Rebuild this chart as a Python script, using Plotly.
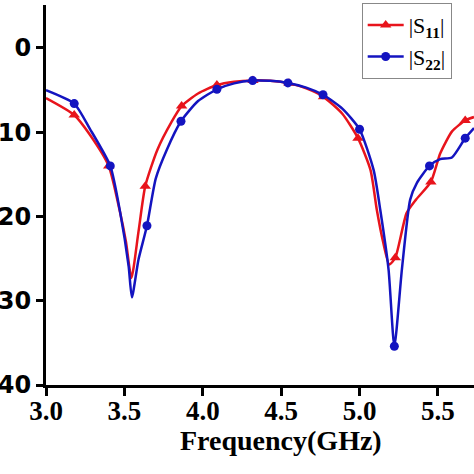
import plotly.graph_objects as go

# ---- data ----
freq_s11 = [3.00, 3.18, 3.28, 3.40, 3.47, 3.51, 3.545, 3.59, 3.633, 3.71, 3.80, 3.865,
            3.97, 4.09, 4.20, 4.32, 4.43, 4.55, 4.66, 4.77, 4.89, 4.99, 5.07, 5.11,
            5.15, 5.19, 5.228, 5.30, 5.36, 5.455, 5.515, 5.59, 5.674, 5.73]
s11 = [-5.95, -7.95, -10.3, -14.0, -19.3, -23.0, -27.3, -21.8, -16.4, -12.1, -8.8, -6.9,
       -5.4, -4.4, -4.0, -3.85, -3.9, -4.2, -4.8, -5.8, -7.8, -10.7, -14.5, -19.2,
       -23.0, -25.7, -24.9, -19.6, -18.0, -15.9, -12.5, -9.9, -8.6, -8.2]
freq_s11_mk = [3.18, 3.40, 3.633, 3.865, 4.09, 4.32, 4.55, 4.77, 4.99, 5.228, 5.455, 5.674]
s11_mk = [-7.95, -14.0, -16.4, -6.9, -4.4, -3.85, -4.2, -5.8, -10.7, -24.9, -15.9, -8.6]

freq_s22 = [3.00, 3.18, 3.28, 3.41, 3.474, 3.527, 3.548, 3.59, 3.644, 3.70, 3.77, 3.861,
            3.97, 4.09, 4.20, 4.318, 4.43, 4.543, 4.66, 4.767, 4.89, 5.00, 5.09, 5.132,
            5.185, 5.222, 5.27, 5.323, 5.366, 5.446, 5.514, 5.589, 5.674, 5.73]
s22 = [-5.0, -6.6, -9.6, -14.0, -19.6, -25.9, -29.6, -25.1, -21.1, -15.5, -12.1, -8.7,
       -6.3, -4.9, -4.2, -3.87, -3.9, -4.15, -4.7, -5.55, -7.2, -9.65, -14.5, -19.2,
       -26.3, -35.4, -26.3, -18.0, -16.0, -14.0, -13.2, -13.0, -10.7, -9.5]
freq_s22_mk = [3.18, 3.41, 3.644, 3.861, 4.09, 4.318, 4.543, 4.767, 5.00, 5.222, 5.446, 5.674]
s22_mk = [-6.6, -14.0, -21.1, -8.7, -4.9, -3.87, -4.15, -5.55, -9.65, -35.4, -14.0, -10.7]

x_ticks = [3.0, 3.5, 4.0, 4.5, 5.0, 5.5]
y_ticks = [0, -10, -20, -30, -40]

RED = "#E8141C"
BLUE = "#1414C0"

fig = go.Figure()
fig.add_trace(go.Scatter(x=freq_s11, y=s11, mode="lines", line=dict(color=RED, width=2.5, shape="spline", smoothing=0.6), showlegend=False))
fig.add_trace(go.Scatter(x=freq_s11_mk, y=s11_mk, mode="markers", marker=dict(symbol="triangle-up", color=RED, size=10), showlegend=False))
fig.add_trace(go.Scatter(x=freq_s22, y=s22, mode="lines", line=dict(color=BLUE, width=2.5, shape="spline", smoothing=0.6), showlegend=False))
fig.add_trace(go.Scatter(x=freq_s22_mk, y=s22_mk, mode="markers", marker=dict(symbol="circle", color=BLUE, size=9), showlegend=False))
# legend entries
fig.add_trace(go.Scatter(x=[None], y=[None], mode="lines+markers", name="|S<sub><b>11</b></sub>|",
                         line=dict(color=RED, width=2.5), marker=dict(symbol="triangle-up", color=RED, size=10)))
fig.add_trace(go.Scatter(x=[None], y=[None], mode="lines+markers", name="|S<sub><b>22</b></sub>|",
                         line=dict(color=BLUE, width=2.5), marker=dict(symbol="circle", color=BLUE, size=9)))

fig.update_layout(
    template="none",
    width=474, height=474,
    margin=dict(l=46, r=0, t=5, b=89, autoexpand=False),
    paper_bgcolor="white", plot_bgcolor="white",
    showlegend=True,
    legend=dict(x=0.7376, y=1.005, xanchor="left", yanchor="top",
                bordercolor="#888888", borderwidth=1, bgcolor="white",
                font=dict(family="Liberation Serif", size=22, color="black"),
                itemwidth=36, tracegroupgap=0),
    xaxis=dict(range=[3.0, 5.73], tickvals=x_ticks, tickformat=".1f", automargin=False,
               showline=True, linecolor="black", linewidth=3,
               ticks="outside", ticklen=8, tickwidth=2.5, tickcolor="black",
               showgrid=False, zeroline=False, ticklabelstandoff=-8,
               tickfont=dict(family="Liberation Serif", size=27, color="black", weight="bold")),
    yaxis=dict(range=[-40, 5.1], tickvals=y_ticks, automargin=False,
               showline=True, linecolor="black", linewidth=3,
               ticks="outside", ticklen=7, tickwidth=2.5, tickcolor="black",
               showgrid=False, zeroline=False, ticklabelstandoff=0,
               tickfont=dict(family="DejaVu Sans", size=24, color="black", weight="bold")),
    annotations=[dict(text="Frequency(GHz)", xref="paper", yref="paper", x=0.549, y=-0.145,
                      xanchor="center", yanchor="middle", showarrow=False,
                      font=dict(family="Liberation Serif", size=28, color="black", weight="bold"))],
)

fig.write_html("out.html", config={"displayModeBar": False},
               post_script="document.body.style.margin='0px';")
